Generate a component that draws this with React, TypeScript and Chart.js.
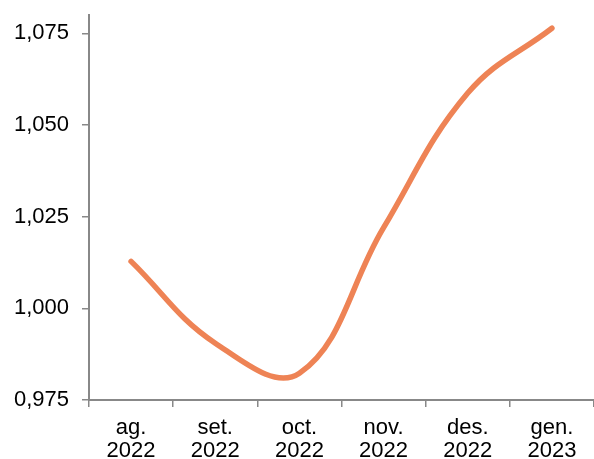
import React, { useEffect, useRef } from "react";
import { Chart, registerables } from "chart.js";

Chart.register(...registerables);

const categories: string[][] = [
  ["ag.", "2022"],
  ["set.", "2022"],
  ["oct.", "2022"],
  ["nov.", "2022"],
  ["des.", "2022"],
  ["gen.", "2023"],
];
const values: number[] = [1.0128, 0.9905, 0.9823, 1.022, 1.0587, 1.0764];
const yTicks: number[] = [0.975, 1.0, 1.025, 1.05, 1.075];
const yMin = 0.975;
const yMax = 1.08;

const fmt = (v: number) => v.toFixed(3).replace(".", ",");

export default function App() {
  const ref = useRef<HTMLCanvasElement>(null);
  useEffect(() => {
    if (!ref.current) return;
    const font = { family: "'Liberation Sans', Arial, sans-serif", size: 22, lineHeight: 1.05 };
    const chart = new Chart(ref.current, {
      type: "line",
      data: {
        labels: categories,
        datasets: [
          {
            data: values,
            borderColor: "#EE8355",
            borderWidth: 5.5,
            pointRadius: 0,
            tension: 0.4,
            borderCapStyle: "round",
            fill: false,
          },
        ],
      },
      options: {
        animation: false,
        responsive: false,
        maintainAspectRatio: false,
        layout: { padding: { top: 15, right: 0, left: 0, bottom: 0 } },
        plugins: { legend: { display: false }, tooltip: { enabled: false } },
        scales: {
          x: {
            offset: true,
            grid: {
              offset: true,
              drawOnChartArea: false,
              tickLength: 7,
              color: "#888888",
              lineWidth: 1.5,
            },
            border: { color: "#888888", width: 2 },
            ticks: { color: "#000000", font, padding: 9, maxRotation: 0, autoSkip: false },
            afterFit: (s: any) => {
              s.height = 59;
              s.paddingLeft = 0;
              s.paddingRight = 0;
            },
          },
          y: {
            min: yMin,
            max: yMax,
            grid: {
              drawOnChartArea: false,
              tickLength: 7,
              color: "#888888",
              lineWidth: 1.5,
            },
            border: { color: "#888888", width: 2 },
            afterBuildTicks: (s: any) => {
              s.ticks = yTicks.map((v) => ({ value: v }));
            },
            ticks: {
              color: "#000000",
              font,
              padding: 13,
              callback: (v: any) => fmt(Number(v)),
            },
            afterFit: (s: any) => {
              s.width = 89;
              s.paddingTop = 0;
              s.paddingBottom = 0;
            },
          },
        },
      },
    });
    return () => chart.destroy();
  }, []);
  return (
    <div style={{ position: "absolute", left: 0, top: 0, width: 594, height: 459, background: "#fff" }}>
      <canvas ref={ref} width={594} height={459} style={{ display: "block", width: 594, height: 459 }} />
    </div>
  );
}
